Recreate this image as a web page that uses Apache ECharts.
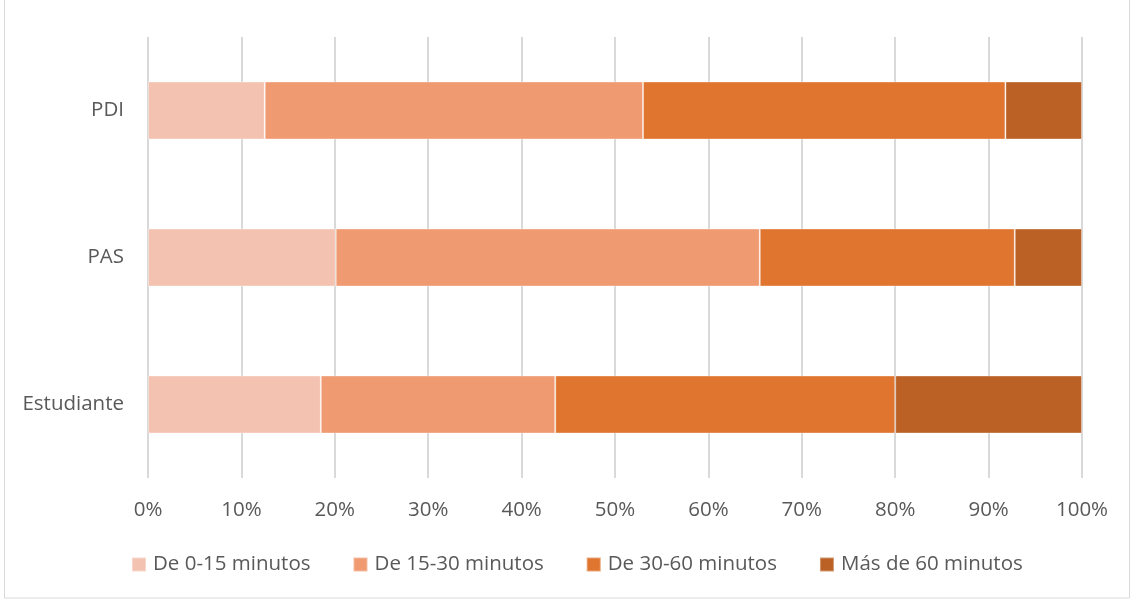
<!DOCTYPE html>
<html>
<head>
<meta charset="utf-8">
<script src="https://cdn.jsdelivr.net/npm/echarts@6/dist/echarts.min.js"></script>
<style>
  html, body { margin: 0; padding: 0; background: #fff; }
  #chart { width: 1132px; height: 599px; }
</style>
</head>
<body>
<div id="chart"></div>
<script>
// Colectivos (bottom to top as drawn on the category axis)
const categories = ['Estudiante', 'PAS', 'PDI'];
// Share of each colectivo by commute time, in percent
const seriesNames = ['De 0-15 minutos', 'De 15-30 minutos', 'De 30-60 minutos', 'Más de 60 minutos'];
const de0a15 = [18.5, 20.1, 12.5];
const de15a30 = [25.1, 45.4, 40.5];
const de30a60 = [36.4, 27.3, 38.8];
const mas60 = [20.0, 7.2, 8.2];
const colors = ['#F4C2B1', '#F09A72', '#DF752F', '#BB6125'];
const xTicks = [0, 10, 20, 30, 40, 50, 60, 70, 80, 90, 100];

const values = [de0a15, de15a30, de30a60, mas60];
const FONT = 'Open Sans';
const FS = 20.5;

const chart = echarts.init(document.getElementById('chart'), null, { renderer: 'canvas' });
chart.setOption({
  animation: false,
  textStyle: { fontFamily: FONT },
  graphic: [{
    type: 'rect',
    shape: { x: 4.5, y: -2, width: 1125, height: 600 },
    style: { fill: 'none', stroke: '#D9D9D9', lineWidth: 1 },
    silent: true
  }],
  grid: { left: 148, right: 50, top: 37, bottom: 121, containLabel: false },
  legend: {
    top: 549,
    left: 126,
    itemWidth: 14,
    itemHeight: 14,
    itemGap: 42,
    icon: 'rect',
    textStyle: { fontFamily: FONT, fontSize: FS, color: '#595959', padding: [0, 0, 0, 2] },
    data: seriesNames
  },
  xAxis: {
    type: 'value',
    min: xTicks[0],
    max: xTicks[xTicks.length - 1],
    interval: 10,
    axisLine: { show: false },
    axisTick: { show: false },
    splitLine: { show: true, lineStyle: { color: '#D9D9D9', width: 2 } },
    axisLabel: {
      fontFamily: FONT, fontSize: FS, color: '#595959', margin: 22,
      formatter: v => v + '%'
    }
  },
  yAxis: {
    type: 'category',
    data: categories,
    axisLine: { show: false },
    axisTick: { show: false },
    axisLabel: { fontFamily: FONT, fontSize: FS, color: '#595959', margin: 24 }
  },
  series: seriesNames.map((name, i) => ({
    name,
    type: 'bar',
    stack: 'total',
    barWidth: 58,
    data: values[i],
    itemStyle: { color: colors[i], borderColor: 'rgba(255,255,255,0.35)', borderWidth: 1 }
  }))
});
</script>
</body>
</html>
